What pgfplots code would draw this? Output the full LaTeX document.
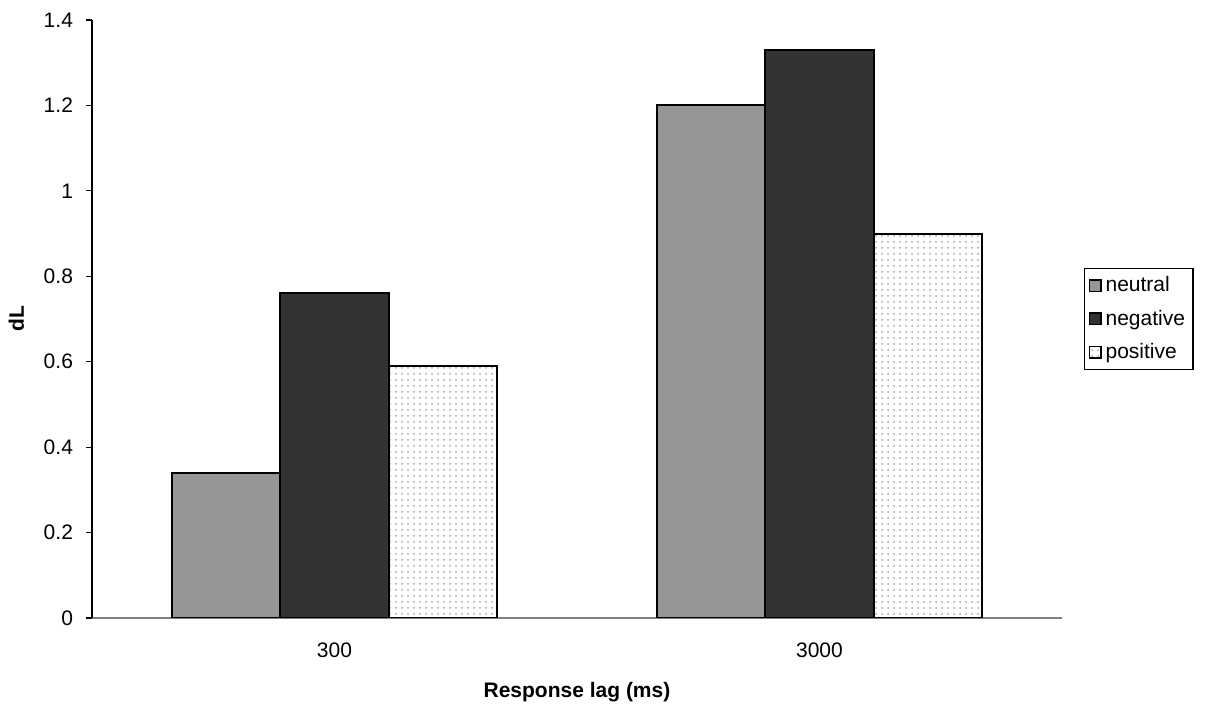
\documentclass[border=0pt]{standalone}
\usepackage{fontspec}
\setmainfont{Liberation Sans}
\usepackage{pgfplots}
\pgfplotsset{compat=1.18}
\usetikzlibrary{patterns}
\newcommand{\fs}{\fontsize{10.5}{12}\selectfont}
\begin{document}
\begin{tikzpicture}
\path[use as bounding box] (-46pt,-43pt) rectangle (558.5pt,309pt);
\begin{axis}[
  at={(0,0)}, anchor=south west,
  scale only axis, width=485pt, height=299pt,
  ybar=0pt, bar width=54.25pt,
  xmin=-0.5, xmax=1.5, ymin=0, ymax=1.4,
  xtick={0,1}, xticklabels={300,3000},
  extra x ticks={-0.5,0.5,1.5}, extra x tick labels={},
  extra x tick style={major tick length=3.5pt, tick style={black, line width=0.6pt}},
  x tick style={draw=none},
  ytick={0,0.2,0.4,0.6,0.8,1,1.2,1.4},
  y tick style={black, line width=0.6pt},
  major tick length=3pt, tick align=outside,
  axis x line*=bottom, axis y line*=left,
  x axis line style={gray, line width=1pt, -},
  y axis line style={black, line width=0.6pt, -},
  /pgf/number format/assume math mode=true,
  ticklabel style={font=\fs},
  xticklabel style={yshift=-6pt},
  yticklabel style={xshift=-3pt},
  xlabel={\textbf{Response lag (ms)}},
  ylabel={\textbf{dL}},
  label style={font=\fs},
  xlabel style={yshift=1pt},
  ylabel style={yshift=3pt},
  legend style={at={(1.0227,0.5)}, anchor=west, draw=black, line width=0.6pt,
    font=\fs, cells={anchor=west}, inner sep=2pt, row sep=3.5pt},
  legend image code/.code={\draw[#1, line width=0.8pt] (0cm,-0.1cm) rectangle (0.2cm,0.1cm);},
]
\addplot[draw=black, line width=1pt, fill={rgb,255:red,150;green,150;blue,150}] coordinates {(0,0.34) (1,1.20)};
\addplot[draw=black, line width=1pt, fill={rgb,255:red,51;green,51;blue,51}] coordinates {(0,0.76) (1,1.33)};
\addplot[draw=black, line width=1pt, fill=white, postaction={pattern=dots, pattern color=gray!70}] coordinates {(0,0.59) (1,0.90)};
\legend{neutral,negative,positive}
\end{axis}
\end{tikzpicture}
\end{document}
